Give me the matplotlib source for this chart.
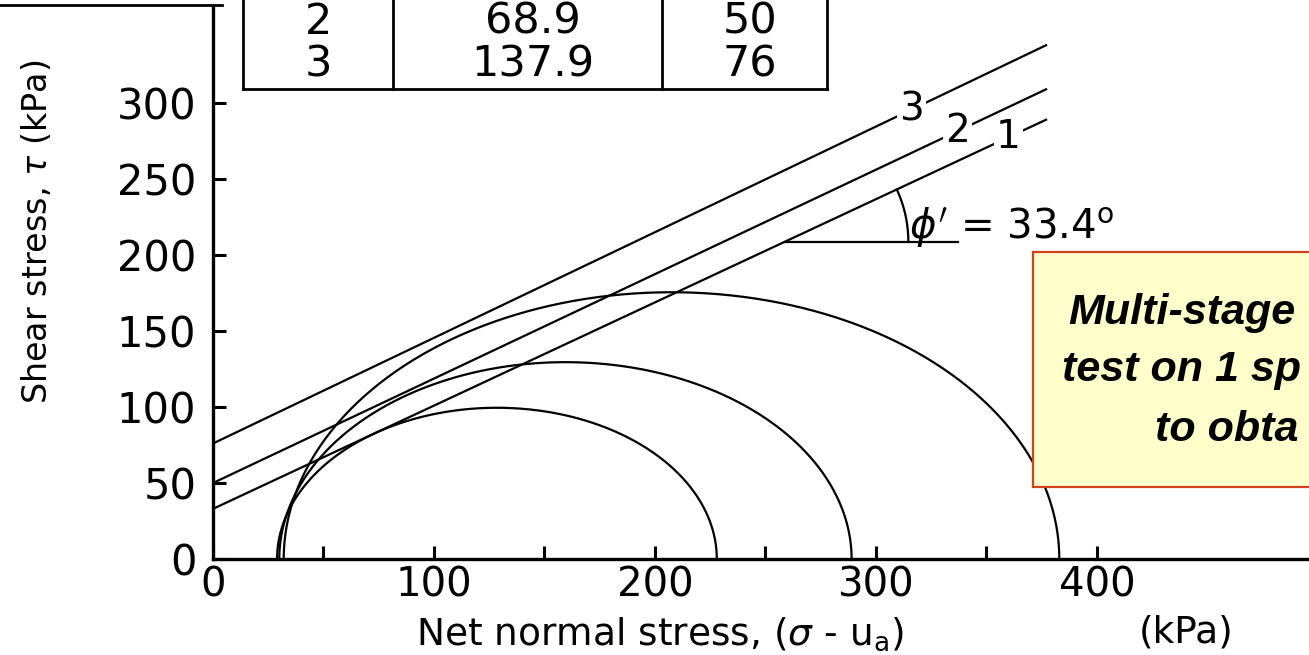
import numpy as np
import matplotlib
matplotlib.use('Agg')
import matplotlib.pyplot as plt
from matplotlib.patches import Rectangle
from matplotlib.lines import Line2D

# Mohr circles (net stresses, kPa)
sigma3 = [29, 30, 32]
sigma1 = [228, 289, 383]

# failure envelopes: intercept and value at the right end
env_names = ["1", "2", "3"]
intercept = [33, 50, 76]
sigma_end = 377
tau_end = [289, 309, 338]
label_sigma = [360, 337, 316]
phi_deg = 33.4

# visible rows of the table
tbl_no = ["2", "3"]
tbl_suction = ["68.9", "137.9"]
tbl_c = ["50", "76"]

xticks = [0, 100, 200, 300, 400]
xminor = [50, 150, 250, 350]
yticks = [0, 50, 100, 150, 200, 250, 300]

W, H = 1309, 655
def fx(px):
    return px / W
def fy(py):
    return 1 - py / H

plt.rcParams['font.family'] = ['DejaVu Sans']
plt.rcParams['mathtext.fontset'] = 'dejavusans'

fig = plt.figure(figsize=(W / 100, H / 100), dpi=100)
ax = fig.add_axes([fx(213), fy(559), fx(1309) - fx(213), fy(8) - fy(559)])
xmax, ymax = 496, 362.5
ax.set_xlim(0, xmax)
ax.set_ylim(0, ymax)

for s in ['top', 'right']:
    ax.spines[s].set_visible(False)
for s in ['left', 'bottom']:
    ax.spines[s].set_linewidth(2.4)

ax.set_xticks(xticks)
ax.set_xticks(xminor, minor=True)
ax.set_yticks(yticks)
ax.tick_params(which='both', direction='in', length=9.5, width=2.2, colors='black')
ax.tick_params(axis='x', labelsize=29, pad=5)
ax.tick_params(axis='y', labelsize=30, pad=12)

lw = 1.6
# Mohr circles
t = np.linspace(0, np.pi, 500)
for s3, s1 in zip(sigma3, sigma1):
    c = (s1 + s3) / 2
    r = (s1 - s3) / 2
    ax.plot(c + r * np.cos(t), r * np.sin(t), color='black', lw=lw, clip_on=False)

# envelopes
slopes = []
for name, c0, te, ls in zip(env_names, intercept, tau_end, label_sigma):
    m = (te - c0) / sigma_end
    slopes.append(m)
    ax.plot([0, sigma_end], [c0, te], color='black', lw=lw)
    ax.text(ls, c0 + m * ls, name, ha='center', va='center', fontsize=28,
            bbox=dict(fc='white', ec='none', pad=1.5), zorder=5)

# angle marker on envelope 1
sx = (1309 - 213) / xmax
sy = (559 - 8) / ymax
s0 = 259
t0 = intercept[0] + slopes[0] * s0
ax.plot([s0, 337], [t0, t0], color='black', lw=lw)
ang = np.arctan(slopes[0] * sy / sx)
a = np.linspace(0, ang, 60)
rpx = 123
ax.plot(s0 + rpx * np.cos(a) / sx, t0 + rpx * np.sin(a) / sy, color='black', lw=lw)
ax.text(315, 218, r"$\phi'$ = " + f"{phi_deg}" + r"$^{\mathrm{o}}$", fontsize=29,
        ha='left', va='center')

# axis titles
fig.text(fx(660), fy(634), r"Net normal stress, ($\sigma$ - u$_{\mathrm{a}}$)",
         fontsize=27, ha='center', va='center')
fig.text(fx(1186), fy(632), "(kPa)", fontsize=27, ha='center', va='center')
fig.text(fx(37), fy(232), r"Shear stress, $\tau$ (kPa)", fontsize=24,
         rotation=90, ha='center', va='center')

# table fragment at the top
tl = 2.0
for xp in [243, 393, 662, 827]:
    fig.add_artist(Line2D([fx(xp), fx(xp)], [fy(0), fy(89)], color='black', lw=tl))
fig.add_artist(Line2D([fx(243), fx(827)], [fy(89), fy(89)], color='black', lw=tl))
fig.add_artist(Line2D([fx(0), fx(222)], [fy(5), fy(5)], color='black', lw=tl))
for col, xp in zip([tbl_no, tbl_suction, tbl_c], [318, 533, 750]):
    fig.text(fx(xp), fy(43), "\n".join(col), fontsize=31, ha='center', va='center',
             multialignment='center', linespacing=1.02)

# note box
fig.add_artist(Rectangle((fx(1033), fy(487)), fx(1330) - fx(1033), fy(252) - fy(487),
                         transform=fig.transFigure, fc='#FFFFCC', ec='#D2421A', lw=1.6, zorder=4))
note = ["Multi-stage", "test on 1 sp", "to obta"]
note_x = [1068, 1062, 1155]
note_y = [313, 370, 430]
for s, xp, yp in zip(note, note_x, note_y):
    fig.text(fx(xp), fy(yp), s, fontsize=31, family=['Liberation Sans'],
             weight='bold', style='italic', ha='left', va='center', zorder=5)

fig.savefig('out.png', dpi=100)
